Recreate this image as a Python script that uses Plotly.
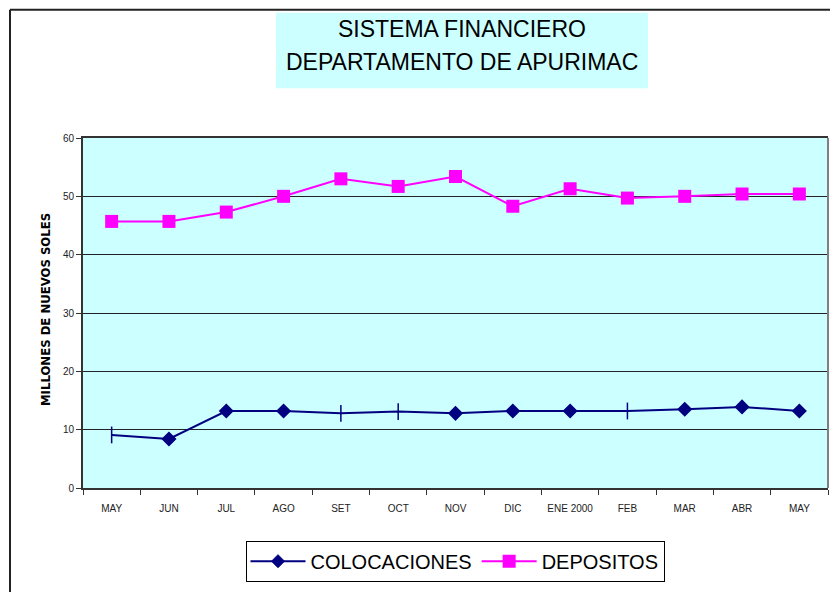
import plotly.graph_objects as go

months = ["MAY", "JUN", "JUL", "AGO", "SET", "OCT", "NOV", "DIC", "ENE 2000", "FEB", "MAR", "ABR", "MAY"]
colocaciones = [9.1, 8.4, 13.2, 13.2, 12.8, 13.1, 12.8, 13.2, 13.2, 13.2, 13.5, 13.9, 13.2]
depositos = [45.7, 45.7, 47.3, 50.0, 53.0, 51.7, 53.4, 48.3, 51.3, 49.7, 50.0, 50.4, 50.4]
y_ticks = [0, 10, 20, 30, 40, 50, 60]

OFF = 8  # page body margin
W, H = 838, 592
L, R, T, B = 83, 828, 138, 490
pw, ph = R - L, B - T

def px(x):
    return (x - L) / pw

def py(y):
    return (B - y) / ph

xs = list(range(len(months)))
col_symbols = ["line-ns", "diamond", "diamond", "diamond", "line-ns", "line-ns", "diamond",
               "diamond", "diamond", "line-ns", "diamond", "diamond", "diamond"]
col_sizes = [12 if s == "line-ns" else 10 for s in col_symbols]
NAVY, MAG = "#000080", "#FF00FF"

fig = go.Figure()
fig.add_trace(go.Scatter(
    x=xs, y=colocaciones, name="COLOCACIONES", mode="lines+markers",
    legendgroup="c", showlegend=False,
    line=dict(color=NAVY, width=2),
    marker=dict(symbol=col_symbols, size=col_sizes, color=NAVY, opacity=1,
                line=dict(color=NAVY, width=1.5)),
))
fig.add_trace(go.Scatter(
    x=[None], y=[None], name="COLOCACIONES", mode="lines+markers", legendgroup="c",
    line=dict(color=NAVY, width=2),
    marker=dict(symbol="diamond", size=10, color=NAVY, line=dict(color=NAVY, width=1)),
))
fig.add_trace(go.Scatter(
    x=xs, y=depositos, name="DEPOSITOS", mode="lines+markers",
    line=dict(color=MAG, width=2),
    marker=dict(symbol="square", size=13, color=MAG, opacity=1),
))

fig.update_layout(
    width=W - OFF, height=H - OFF,
    margin=dict(l=L - OFF, r=W - R, t=T - OFF, b=H - B, pad=0),
    paper_bgcolor="white", plot_bgcolor="#CCFFFF",
    font=dict(family="Liberation Sans, Arial, sans-serif", color="#000"),
    showlegend=True,
    legend=dict(orientation="h", x=px(455), y=py(543), xanchor="center", yanchor="top",
                bordercolor="#000", borderwidth=1, bgcolor="white",
                font=dict(size=20, family="Liberation Sans, Arial, sans-serif"),
                itemwidth=55, tracegroupgap=0),
)

fig.update_xaxes(
    range=[-0.5, len(months) - 0.5], tickmode="array", tickvals=xs, ticktext=months,
    ticks="", showgrid=False, zeroline=False,
    showline=True, linecolor="#333", linewidth=2, mirror=True,
    tickfont=dict(size=10, color="#222"), ticklabelstandoff=10,
    minor=dict(tickmode="linear", tick0=-0.5, dtick=1, ticks="outside", ticklen=5,
               tickcolor="#333", tickwidth=1, showgrid=False),
)
fig.update_yaxes(
    range=[0, 60], tickvals=y_ticks, ticks="outside", ticklen=5, tickcolor="#333",
    showgrid=True, gridcolor="#222", gridwidth=1, zeroline=False,
    showline=True, linecolor="#333", linewidth=2,
    tickfont=dict(size=10, color="#222"),
)

# right edge of plot area (gray)
fig.add_shape(type="line", xref="paper", yref="paper", x0=1, x1=1, y0=0, y1=1,
              line=dict(color="#808080", width=2))
# outer chart border (left and top)
fig.add_shape(type="line", xref="paper", yref="paper", x0=px(10), x1=px(10), y0=py(600), y1=py(9),
              line=dict(color="#222", width=2))
fig.add_shape(type="line", xref="paper", yref="paper", x0=px(10), x1=px(850), y0=py(9), y1=py(9),
              line=dict(color="#222", width=2))

# title box
fig.add_shape(type="rect", xref="paper", yref="paper", x0=px(276), x1=px(648), y0=py(88), y1=py(12),
              fillcolor="#CCFFFF", line=dict(width=0), layer="below")
for txt, yc in [("SISTEMA FINANCIERO", 28.5), ("DEPARTAMENTO DE APURIMAC", 61.5)]:
    fig.add_annotation(
        xref="paper", yref="paper", x=px(462), y=py(yc), xanchor="center", yanchor="middle",
        text=txt, showarrow=False,
        font=dict(size=23, family="Liberation Sans, Arial, sans-serif", color="#000"),
    )
fig.add_annotation(
    xref="paper", yref="paper", x=px(45), y=py(311), xanchor="center", yanchor="middle",
    text="<b>MILLONES DE NUEVOS SOLES</b>", textangle=-90, showarrow=False,
    font=dict(size=13, family="DejaVu Sans Condensed, Liberation Sans Narrow, Liberation Sans, sans-serif",
              color="#000"),
)

fig.write_html("out.html")
